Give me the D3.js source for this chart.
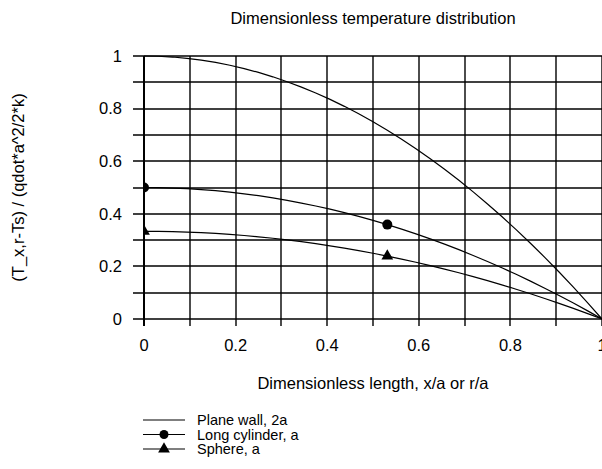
<!DOCTYPE html>
<html><head><meta charset="utf-8">
<script src="https://cdn.jsdelivr.net/npm/d3@7"></script>
<style>body{margin:0;background:#fff}svg{display:block}text{font-family:"Liberation Sans",Arial,sans-serif;fill:#000}</style>
</head><body>
<script>
const xValues = [0,0.03125,0.0625,0.09375,0.125,0.15625,0.1875,0.21875,0.25,0.28125,0.3125,0.34375,0.375,0.40625,0.4375,0.46875,0.5,0.53125,0.5625,0.59375,0.625,0.65625,0.6875,0.71875,0.75,0.78125,0.8125,0.84375,0.875,0.90625,0.9375,0.96875,1];
const planeWall = [1,0.999,0.9961,0.9912,0.9844,0.9756,0.9648,0.9521,0.9375,0.9209,0.9023,0.8818,0.8594,0.835,0.8086,0.7803,0.75,0.7178,0.6836,0.6475,0.6094,0.5693,0.5273,0.4834,0.4375,0.3896,0.3398,0.2881,0.2344,0.1787,0.1211,0.0615,0];
const longCylinder = [0.5,0.4995,0.498,0.4956,0.4922,0.4878,0.4824,0.4761,0.4688,0.4604,0.4512,0.4409,0.4297,0.4175,0.4043,0.3901,0.375,0.3589,0.3418,0.3237,0.3047,0.2847,0.2637,0.2417,0.2188,0.1948,0.1699,0.144,0.1172,0.0894,0.0605,0.0308,0];
const sphere = [0.3333,0.333,0.332,0.3304,0.3281,0.3252,0.3216,0.3174,0.3125,0.307,0.3008,0.2939,0.2865,0.2783,0.2695,0.2601,0.25,0.2393,0.2279,0.2158,0.2031,0.1898,0.1758,0.1611,0.1458,0.1299,0.1133,0.096,0.0781,0.0596,0.0404,0.0205,0];
const markerIndices = [0,17];
const seriesNames = ["Plane wall, 2a","Long cylinder, a","Sphere, a"];
const markerTypes = [null,"circle","triangle"];
const xTickLabels = [0,0.2,0.4,0.6,0.8,1];
const yTickLabels = [0,0.2,0.4,0.6,0.8,1];
const gridSteps = [0,0.1,0.2,0.3,0.4,0.5,0.6,0.7,0.8,0.9,1];

const W=602,H=469;
const svg=d3.select("body").append("svg").attr("width",W).attr("height",H);
const x=d3.scaleLinear().domain([0,1]).range([144,602]);
const y=d3.scaleLinear().domain([0,1]).range([319,56]);
const fs=16.5;

// grid
const g=svg.append("g");
g.selectAll(".vg").data(gridSteps).join("line")
 .attr("x1",d=>Math.round(x(d))).attr("x2",d=>Math.round(x(d))).attr("y1",y(1)).attr("y2",y(0)+7)
 .attr("stroke","#000").attr("stroke-width",1.4);
g.selectAll(".hg").data(gridSteps).join("line")
 .attr("x1",x(0)-11).attr("x2",x(1)).attr("y1",d=>Math.round(y(d))).attr("y2",d=>Math.round(y(d)))
 .attr("stroke","#000").attr("stroke-width",1.4);
g.append("line").attr("x1",x(0)).attr("x2",x(0)).attr("y1",y(1)).attr("y2",y(0)+7).attr("stroke","#000").attr("stroke-width",2);

// tick labels
svg.append("g").selectAll("text").data(xTickLabels).join("text")
 .attr("x",d=>x(d)).attr("y",y(0)+32).attr("text-anchor","middle").attr("font-size",fs).text(d=>d3.format("")(d));
svg.append("g").selectAll("text").data(yTickLabels).join("text")
 .attr("x",x(0)-22).attr("y",d=>y(d)).attr("dy","0.35em").attr("text-anchor","end").attr("font-size",fs).text(d=>d3.format("")(d));

// titles
svg.append("text").attr("x",(x(0)+x(1))/2).attr("y",24).attr("text-anchor","middle").attr("font-size",fs).text("Dimensionless temperature distribution");
svg.append("text").attr("x",(x(0)+x(1))/2).attr("y",389).attr("text-anchor","middle").attr("font-size",fs).text("Dimensionless length, x/a or r/a");
svg.append("text").attr("transform",`translate(24,${(y(0)+y(1))/2}) rotate(-90)`).attr("text-anchor","middle").attr("font-size",fs).text("(T_x,r-Ts) / (qdot*a^2/2*k)");

// clip
svg.append("clipPath").attr("id","clip").append("rect").attr("x",x(0)).attr("y",y(1)-1).attr("width",x(1)-x(0)).attr("height",y(0)-y(1)+2);
const plot=svg.append("g").attr("clip-path","url(#clip)");
const series=[planeWall,longCylinder,sphere];
const line=d3.line().x((d,i)=>x(xValues[i])).y(d=>y(d));
series.forEach(s=>plot.append("path").attr("d",line(s)).attr("fill","none").attr("stroke","#000").attr("stroke-width",1.2));

const tri=d3.symbol().type(d3.symbolTriangle).size(60);
function drawMarker(sel,type,cx,cy,r){
  if(type==="circle") sel.append("circle").attr("cx",cx).attr("cy",cy).attr("r",r).attr("fill","#000");
  else if(type==="triangle") sel.append("path").attr("d",tri()).attr("transform",`translate(${cx},${cy})`).attr("fill","#000");
}
series.forEach((s,k)=>{
  if(!markerTypes[k]) return;
  markerIndices.forEach(i=>drawMarker(plot,markerTypes[k],x(xValues[i]),y(s[i]),5));
});

// legend
const leg=svg.append("g");
seriesNames.forEach((n,k)=>{
  const ly=420+k*14.5;
  leg.append("line").attr("x1",143).attr("x2",185).attr("y1",ly).attr("y2",ly).attr("stroke","#000").attr("stroke-width",1.2);
  drawMarker(leg,markerTypes[k],164,ly,4.5);
  leg.append("text").attr("x",197).attr("y",ly).attr("dy","0.35em").attr("font-size",14.5).text(n);
});
</script>
</body></html>
